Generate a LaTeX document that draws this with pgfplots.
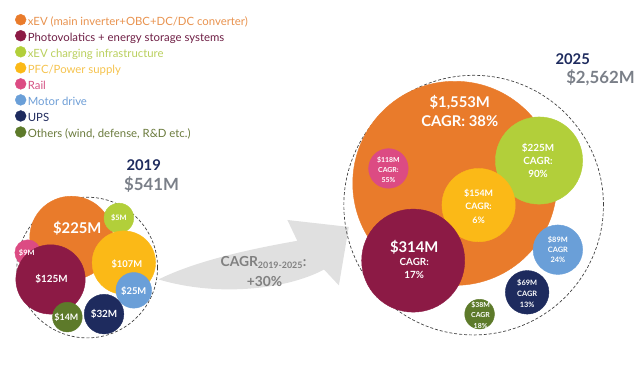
\documentclass[border=0pt]{standalone}
\usepackage{pgfplots}
\usepackage{pgfplotstable}
\pgfplotsset{compat=1.18}
\usepackage{fontspec}
\setmainfont{Lato}
\definecolor{cXEV}{HTML}{E97B2B}
\definecolor{cPV}{HTML}{8C1A45}
\definecolor{cCH}{HTML}{B2CF3A}
\definecolor{cPFC}{HTML}{FBB917}
\definecolor{cRail}{HTML}{DC4B83}
\definecolor{cMD}{HTML}{6A9FD8}
\definecolor{cUPS}{HTML}{1E2B5E}
\definecolor{cOTH}{HTML}{5D7A2A}
\definecolor{tXEV}{HTML}{E8924E}
\definecolor{tPV}{HTML}{6E1E44}
\definecolor{tCH}{HTML}{B9CF5C}
\definecolor{tPFC}{HTML}{F5C34E}
\definecolor{tRail}{HTML}{D45283}
\definecolor{tMD}{HTML}{6E9ED6}
\definecolor{tUPS}{HTML}{1F2A5C}
\definecolor{tOTH}{HTML}{6A7A3C}
\definecolor{cGrayTxt}{HTML}{7A7F88}
% 2019 bubbles (pixel coordinates, y downward), r = radius
\pgfplotstableread{
x y r c
72 240 42 xev
120 220 15 ch
125 265 32 pfc
28 255 13 rail
51 282 35 pv
135 293 18 md
105 317 20 ups
68 320 15 oth
}\dataA
% 2025 bubbles
\pgfplotstableread{
x y r c
459 185 103 xev
544 162 44 ch
392 170 20 rail
483 207 37 pfc
417 263 52 pv
563 252 25 md
532 295 22 ups
484 317 15 oth
}\dataB
\begin{document}
\begin{tikzpicture}
\begin{axis}[
  x=1bp, y=1bp, xmin=0, xmax=638, ymin=0, ymax=374, y dir=reverse,
  scale only axis, hide axis, clip=false, set layers=standard,
  legend style={at={(axis cs:12,12)}, anchor=north west, draw=none, fill=none,
    font=\fontsize{11.5}{13}\selectfont, row sep=0.5bp,
    nodes={inner sep=1.5bp, text height=8.5bp, text depth=2.5bp}},
  legend cell align=left,
  bub/.style={scatter, only marks, forget plot, point meta=explicit symbolic,
    scatter/classes={
      xev={mark=*, cXEV},
      pv={mark=*, cPV},
      ch={mark=*, cCH},
      pfc={mark=*, cPFC},
      rail={mark=*, cRail},
      md={mark=*, cMD},
      ups={mark=*, cUPS},
      oth={mark=*, cOTH}},
    visualization depends on={\thisrow{r} \as \rad},
    scatter/@pre marker code/.append style={/tikz/mark size=\rad bp}},
]
\path (rel axis cs:0,0) rectangle (rel axis cs:1,1);
\addlegendimage{legend image code/.code={\fill[cXEV] (5.5bp,0.3em) circle (5.5bp);}}
\addlegendentry{\textcolor{tXEV}{xEV (main inverter+OBC+DC/DC converter)}}
\addlegendimage{legend image code/.code={\fill[cPV] (5.5bp,0.3em) circle (5.5bp);}}
\addlegendentry{\textcolor{tPV}{Photovolatics + energy storage systems}}
\addlegendimage{legend image code/.code={\fill[cCH] (5.5bp,0.3em) circle (5.5bp);}}
\addlegendentry{\textcolor{tCH}{xEV charging infrastructure}}
\addlegendimage{legend image code/.code={\fill[cPFC] (5.5bp,0.3em) circle (5.5bp);}}
\addlegendentry{\textcolor{tPFC}{PFC/Power supply}}
\addlegendimage{legend image code/.code={\fill[cRail] (5.5bp,0.3em) circle (5.5bp);}}
\addlegendentry{\textcolor{tRail}{Rail}}
\addlegendimage{legend image code/.code={\fill[cMD] (5.5bp,0.3em) circle (5.5bp);}}
\addlegendentry{\textcolor{tMD}{Motor drive}}
\addlegendimage{legend image code/.code={\fill[cUPS] (5.5bp,0.3em) circle (5.5bp);}}
\addlegendentry{\textcolor{tUPS}{UPS}}
\addlegendimage{legend image code/.code={\fill[cOTH] (5.5bp,0.3em) circle (5.5bp);}}
\addlegendentry{\textcolor{tOTH}{Others (wind, defense, R\&D etc.)}}

% growth arrow
\fill[black!12] (axis cs:160,282) .. controls (axis cs:200,262) and (axis cs:260,250) .. (axis cs:300,243)
  -- (axis cs:290,222) -- (axis cs:352,229) -- (axis cs:342,288) -- (axis cs:327,272)
  .. controls (axis cs:290,292) and (axis cs:220,300) .. cycle;
\node[text=black!50, font=\fontsize{14}{16}\selectfont\bfseries] at (axis cs:266,265)
  {CAGR\textsubscript{\fontsize{9}{10}\selectfont 2019-2025}:};
\node[text=black!50, font=\fontsize{14}{16}\selectfont\bfseries] at (axis cs:267,284) {+30\%};

% dashed envelopes
\addplot[only marks, forget plot, mark=o, mark size=71bp,
  mark options={draw=black!75, densely dashed, line width=0.7bp, fill=none}]
  coordinates {(88,270)};
\addplot[only marks, forget plot, mark=o, mark size=131bp,
  mark options={draw=black!75, densely dashed, line width=0.7bp, fill=none}]
  coordinates {(478,207)};

\addplot[bub] table[x=x, y=y, meta=c] {\dataA};
\addplot[bub] table[x=x, y=y, meta=c] {\dataB};

\begin{pgfonlayer}{axis foreground}
% 2019 labels
\begin{scope}[every node/.style={text=white, align=center, inner sep=0pt}]
\node[font=\fontsize{15}{17}\selectfont\bfseries] at (axis cs:78,230) {\$225M};
\node[font=\fontsize{7.5}{9}\selectfont\bfseries] at (axis cs:120,220) {\$5M};
\node[font=\fontsize{9.5}{11}\selectfont\bfseries] at (axis cs:128,267) {\$107M};
\node[font=\fontsize{7.5}{9}\selectfont\bfseries] at (axis cs:27,255) {\$9M};
\node[font=\fontsize{10}{12}\selectfont\bfseries] at (axis cs:52,282) {\$125M};
\node[font=\fontsize{9.5}{11}\selectfont\bfseries] at (axis cs:135,294) {\$25M};
\node[font=\fontsize{10}{12}\selectfont\bfseries] at (axis cs:105,317) {\$32M};
\node[font=\fontsize{9}{11}\selectfont\bfseries] at (axis cs:67,320) {\$14M};
% 2025 labels
\node[font=\fontsize{15}{20}\selectfont\bfseries] at (axis cs:464,112) {\$1,553M\\CAGR: 38\%};
\node[font=\fontsize{10}{13.5}\selectfont\bfseries] at (axis cs:543,162) {\$225M\\CAGR:\\90\%};
\node[font=\fontsize{7}{10}\selectfont\bfseries] at (axis cs:392,171) {\$118M\\CAGR:\\55\%};
\node[font=\fontsize{9}{13.5}\selectfont\bfseries] at (axis cs:483,208) {\$154M\\CAGR:\\6\%};
\node[font=\fontsize{15}{17}\selectfont\bfseries] at (axis cs:418,250) {\$314M};
\node[font=\fontsize{10}{13.5}\selectfont\bfseries] at (axis cs:418,271) {CAGR:\\17\%};
\node[font=\fontsize{7.5}{10}\selectfont\bfseries] at (axis cs:563,252) {\$89M\\CAGR\\24\%};
\node[font=\fontsize{7.5}{11}\selectfont\bfseries] at (axis cs:532,296) {\$69M\\CAGR\\13\%};
\node[font=\fontsize{7}{10.5}\selectfont\bfseries] at (axis cs:485,318) {\$38M\\CAGR\\18\%};
\end{scope}
\end{pgfonlayer}
% year titles
\node[text=cUPS, font=\fontsize{15}{17}\selectfont\bfseries] at (axis cs:145,167) {2019};
\node[text=cGrayTxt, font=\fontsize{17}{19}\selectfont\bfseries] at (axis cs:153,186) {\$541M};
\node[text=cUPS, font=\fontsize{15}{17}\selectfont\bfseries] at (axis cs:578,60) {2025};
\node[text=cGrayTxt, font=\fontsize{17}{19}\selectfont\bfseries] at (axis cs:606,78) {\$2,562M};
\end{axis}
\end{tikzpicture}
\end{document}
